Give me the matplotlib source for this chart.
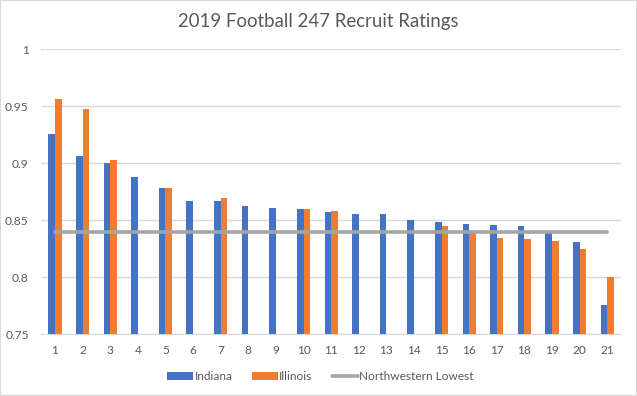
import numpy as np
import matplotlib.pyplot as plt
from matplotlib.patches import Rectangle

recruits = list(range(1, 22))
indiana = [0.926, 0.906, 0.900, 0.888, 0.878, 0.867, 0.867, 0.8625, 0.861, 0.860, 0.857,
           0.8555, 0.8555, 0.850, 0.8485, 0.847, 0.846, 0.845, 0.839, 0.831, 0.776]
illinois = [0.956, 0.948, 0.903, np.nan, 0.878, np.nan, 0.870, np.nan, np.nan, 0.860, 0.858,
            np.nan, np.nan, np.nan, 0.845, 0.839, 0.8345, 0.8335, 0.832, 0.825, 0.800]
northwestern_lowest = [0.8394] * 21
y_ticks = [0.75, 0.8, 0.85, 0.9, 0.95, 1]
y_labels = ["0.75", "0.8", "0.85", "0.9", "0.95", "1"]


def main():
    plt.rcParams["font.family"] = ["Lato", "DejaVu Sans"]
    fig = plt.figure(figsize=(6.37, 3.96), dpi=100)
    ax = fig.add_axes([0.0647, 0.1558, 0.9103, 0.7197])

    x = np.array(recruits)
    width = 0.24
    b1 = ax.bar(x - width / 2, indiana, width, color="#4472C4", label="Indiana", zorder=2)
    b2 = ax.bar(x + width / 2, illinois, width, color="#ED7D31", label="Illinois", zorder=2)
    (ln,) = ax.plot(x, northwestern_lowest, color="#A5A5A5", linewidth=2.6,
                    label="Northwestern Lowest", zorder=3, solid_capstyle="round")

    ax.set_xlim(0.5, 21.5)
    ax.set_ylim(0.75, 1.0)
    ax.set_yticks(y_ticks)
    ax.set_yticklabels(y_labels)
    ax.set_xticks(x)
    ax.set_xticklabels([str(r) for r in recruits])
    ax.tick_params(axis="both", length=0, labelsize=8.6, colors="#595959")
    ax.tick_params(axis="y", pad=9)
    ax.tick_params(axis="x", pad=8)
    ax.grid(axis="y", color="#D9D9D9", linewidth=1, zorder=0)
    for side in ["top", "right", "left"]:
        ax.spines[side].set_visible(False)
    ax.spines["bottom"].set_color("#D9D9D9")
    ax.spines["bottom"].set_zorder(1)

    fig.text(0.5, 0.945, "2019 Football 247 Recruit Ratings", ha="center", va="center",
             fontsize=13.4, color="#595959")

    fig.legend([b1, b2, ln], ["Indiana", "Illinois", "Northwestern Lowest"],
               loc="center", bbox_to_anchor=(0.503, 0.049), ncol=3, frameon=False,
               fontsize=8.6, labelcolor="#595959", handlelength=2.2, handleheight=0.6,
               columnspacing=1.6, handletextpad=0.1)

    fig.patches.append(Rectangle((0, 0), 1, 1, transform=fig.transFigure, fill=False,
                                 edgecolor="#D9D9D9", linewidth=1.5))
    fig.savefig("out.png", dpi=100)


if __name__ == "__main__":
    main()
